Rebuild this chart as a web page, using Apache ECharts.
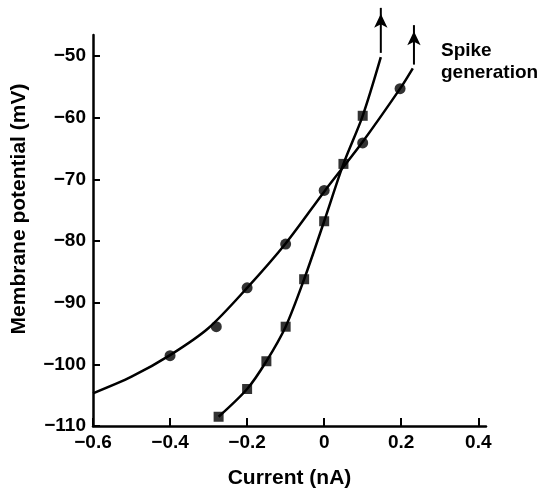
<!DOCTYPE html>
<html>
<head>
<meta charset="utf-8">
<script src="https://cdn.jsdelivr.net/npm/echarts@6/dist/echarts.min.js"></script>
<style>
  html, body { margin: 0; padding: 0; background: #fff; }
  #main { width: 539px; height: 494px; }
</style>
</head>
<body>
<div id="main"></div>
<script>
// tick values
const xTicks = [-0.6, -0.4, -0.2, 0, 0.2, 0.4];
const yTicks = [-110, -100, -90, -80, -70, -60, -50];

// measured points (circles)
const circleX = [-0.4, -0.28, -0.2, -0.1, 0, 0.1, 0.197];
const circleY = [-98.6, -93.9, -87.6, -80.5, -71.8, -64.1, -55.3];
// measured points (squares)
const squareX = [-0.274, -0.2, -0.15, -0.1, -0.052, 0, 0.05, 0.1];
const squareY = [-108.5, -104.0, -99.5, -93.9, -86.2, -76.8, -67.5, -59.7];

// fitted curves
const circleCurveX = [-0.6, -0.5, -0.4, -0.3, -0.2, -0.1, 0, 0.1, 0.197, 0.23];
const circleCurveY = [-104.7, -102.0, -98.5, -94.1, -87.6, -80.4, -72.0, -63.9, -55.3, -52.0];
const squareCurveX = [-0.274, -0.2, -0.15, -0.1, -0.052, 0, 0.05, 0.1, 0.147];
const squareCurveY = [-108.5, -104.0, -99.5, -93.9, -86.2, -76.8, -67.5, -59.7, -50.2];

// "spike generation" arrows: [x, yStart, yTip]
const squareArrow = [0.147, -49.5, -42.2];
const circleArrow = [0.233, -51.4, -45.0];

const font = "'Liberation Sans', Arial, sans-serif";
const minus = (v) => String(v).replace('-', '\u2212');
const zip = (xs, ys) => xs.map((x, i) => [x, ys[i]]);

const arrowData = (a) => [
  { value: [a[0], a[1]], symbol: 'none' },
  { value: [a[0], a[2]], symbol: 'arrow', symbolSize: [10, 14], symbolOffset: [0, 6] }
];

const chart = echarts.init(document.getElementById('main'));

const option = {
  animation: false,
  backgroundColor: '#fff',
  grid: { left: 93, right: 53, top: 35, bottom: 62.5 },
  xAxis: {
    type: 'value',
    min: -0.6,
    max: 0.42,
    name: 'Current (nA)',
    nameLocation: 'middle',
    nameGap: 42,
    nameTextStyle: { color: '#000', fontFamily: font, fontSize: 21, fontWeight: 'bold' },
    axisLine: { show: true, onZero: false, lineStyle: { color: '#000', width: 2.5 } },
    axisTick: { show: true, inside: true, length: 8, lineStyle: { color: '#000', width: 2 }, customValues: xTicks },
    axisLabel: { color: '#000', fontFamily: font, fontSize: 19, fontWeight: 'bold', margin: 7, customValues: xTicks, formatter: minus },
    splitLine: { show: false }
  },
  yAxis: {
    type: 'value',
    min: -110,
    max: -46.6,
    name: 'Membrane potential (mV)',
    nameLocation: 'middle',
    nameGap: 63,
    nameTextStyle: { color: '#000', fontFamily: font, fontSize: 21, fontWeight: 'bold', padding: [0, 0, 0, 43] },
    axisLine: { show: true, onZero: false, lineStyle: { color: '#000', width: 2.5 } },
    axisTick: { show: true, inside: true, length: 7, lineStyle: { color: '#000', width: 2 }, customValues: yTicks },
    axisLabel: { color: '#000', fontFamily: font, fontSize: 19, fontWeight: 'bold', margin: 7, customValues: yTicks, formatter: minus },
    splitLine: { show: false }
  },
  graphic: [
    {
      type: 'text',
      left: 441,
      top: 40,
      style: {
        text: 'Spike\ngeneration',
        fill: '#000',
        font: 'bold 19px ' + font,
        lineHeight: 22
      }
    }
  ],
  series: [
    {
      type: 'line',
      data: zip(circleCurveX, circleCurveY),
      smooth: 0.3,
      symbol: 'none',
      lineStyle: { color: '#000', width: 2.5 },
      z: 2
    },
    {
      type: 'line',
      data: zip(squareCurveX, squareCurveY),
      smooth: 0.3,
      symbol: 'none',
      lineStyle: { color: '#000', width: 2.5 },
      z: 2
    },
    {
      type: 'scatter',
      data: zip(circleX, circleY),
      symbol: 'circle',
      symbolSize: 11,
      itemStyle: { color: '#000' },
      z: 3
    },
    {
      type: 'scatter',
      data: zip(squareX, squareY),
      symbol: 'rect',
      symbolSize: 10,
      itemStyle: { color: '#000' },
      z: 3
    },
    {
      type: 'line',
      data: arrowData(squareArrow),
      clip: false,
      lineStyle: { color: '#000', width: 2 },
      itemStyle: { color: '#000' },
      z: 3
    },
    {
      type: 'line',
      data: arrowData(circleArrow),
      clip: false,
      lineStyle: { color: '#000', width: 2 },
      itemStyle: { color: '#000' },
      z: 3
    }
  ]
};

chart.setOption(option);
</script>
</body>
</html>
